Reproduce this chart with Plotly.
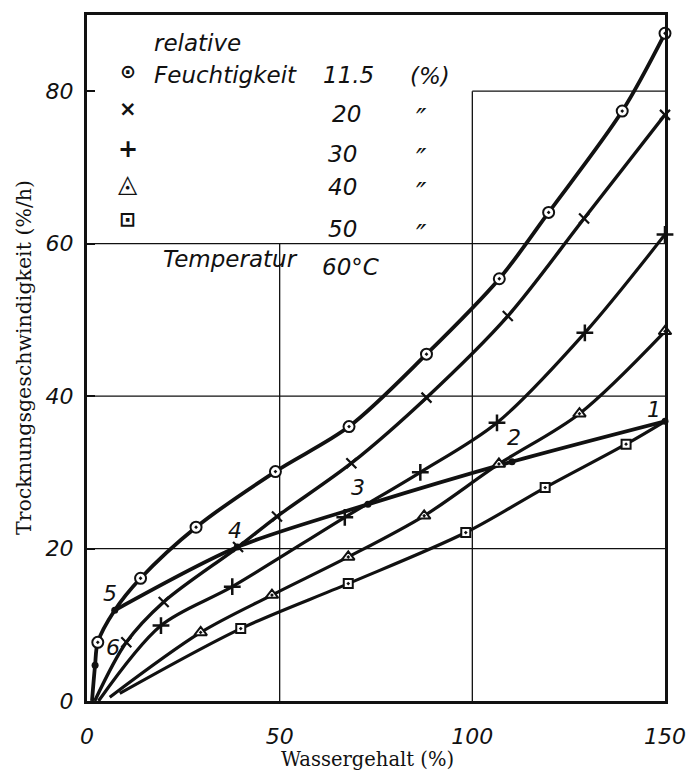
import plotly.graph_objects as go

# ---------------- data ----------------
# relative humidity 11.5 % (circles)
x_115 = [2.8, 13.9, 28.3, 48.9, 68.0, 88.1, 107.0, 119.8, 138.9, 150.0]
y_115 = [7.7, 16.1, 22.8, 30.1, 36.0, 45.5, 55.4, 64.1, 77.4, 87.6]
# 20 % (crosses x)
x_20 = [10.2, 19.9, 39.2, 49.3, 68.6, 88.1, 109.2, 129.0, 150.0]
y_20 = [7.7, 13.0, 20.2, 24.2, 31.2, 39.8, 50.5, 63.3, 76.9]
# 30 % (plus)
x_30 = [19.2, 37.7, 66.9, 86.5, 106.4, 129.2, 150.0]
y_30 = [9.9, 15.0, 24.1, 30.0, 36.5, 48.3, 61.2]
# 40 % (triangles)
x_40 = [29.5, 48.0, 67.8, 87.5, 106.9, 127.8, 150.0]
y_40 = [9.0, 13.9, 18.9, 24.3, 31.1, 37.7, 48.5]
# 50 % (squares)
x_50 = [39.9, 67.8, 98.3, 118.9, 139.9]
y_50 = [9.5, 15.4, 22.1, 28.0, 33.7]

# where each curve leaves the x axis (11.5, 20, 30, 40, 50 %)
start_x = [1.3, 2.0, 3.0, 5.9, 8.5]
start_y = [0.0, 0.0, 0.0, 0.5, 1.0]

# numbered drying path (filled dots)
path_labels = ["1", "2", "3", "4", "5", "6"]
path_x = [150.0, 110.3, 72.9, 39.0, 7.2, 2.1]
path_y = [36.7, 31.4, 25.8, 20.2, 11.9, 4.7]

x_tick_vals = [0, 50, 100, 150]
x_tick_text = ["0", "50", "100", "150"]
y_tick_vals = [0, 20, 40, 60, 80]
y_tick_text = ["0", "20", "40", "60", "80"]

rh_values = ["11.5", "20", "30", "40", "50"]
legend_glyphs = ["⊙", "×", "+", "◬", "⊡"]

# ---------------- figure ----------------
BLACK = "#111111"
HAND = dict(family="DejaVu Sans", size=22, color=BLACK, style="italic")

fig = go.Figure()

# curve for 11.5 % also passes through path points 5 and 6
pts = sorted(list(zip(x_115, y_115)) + [(start_x[0], start_y[0]),
             (path_x[4], path_y[4]), (path_x[5], path_y[5])])
curves = [
    ([p[0] for p in pts], [p[1] for p in pts], 3.8),
    ([start_x[1]] + x_20, [start_y[1]] + y_20, 3.4),
    ([start_x[2]] + x_30, [start_y[2]] + y_30, 3.2),
    ([start_x[3]] + x_40, [start_y[3]] + y_40, 3.2),
    ([start_x[4]] + x_50 + [path_x[0]], [start_y[4]] + y_50 + [path_y[0]], 3.2),
]
for cx, cy, w in curves:
    fig.add_trace(go.Scatter(x=cx, y=cy, mode="lines",
                             line=dict(color=BLACK, width=w, shape="spline", smoothing=0.9),
                             hoverinfo="skip", showlegend=False, cliponaxis=False))

# drying path line (points 1..5)
fig.add_trace(go.Scatter(x=path_x[:5], y=path_y[:5], mode="lines",
                         line=dict(color=BLACK, width=3.8, shape="spline", smoothing=0.8),
                         hoverinfo="skip", showlegend=False, cliponaxis=False))
fig.add_trace(go.Scatter(x=path_x, y=path_y, mode="markers",
                         marker=dict(symbol="circle", size=7, color=BLACK),
                         hoverinfo="skip", showlegend=False, cliponaxis=False))

marker_styles = [
    (x_115, y_115, dict(symbol="circle-dot", size=11, color="white", line=dict(color=BLACK, width=2))),
    (x_20, y_20, dict(symbol="x-thin", size=10, color=BLACK, line=dict(color=BLACK, width=2.2))),
    (x_30, y_30, dict(symbol="cross-thin", size=12, color=BLACK, line=dict(color=BLACK, width=2.5))),
    (x_40, y_40, dict(symbol="triangle-up-dot", size=11, color="white", line=dict(color=BLACK, width=2))),
    (x_50, y_50, dict(symbol="square-dot", size=9, color="white", line=dict(color=BLACK, width=2))),
]
for mx, my, mk in marker_styles:
    fig.add_trace(go.Scatter(x=mx, y=my, mode="markers", marker=mk,
                             hoverinfo="skip", showlegend=False, cliponaxis=False))

# grid (partial, as in the original)
grid = [
    dict(x0=0, x1=150, y0=20, y1=20),
    dict(x0=0, x1=150, y0=40, y1=40),
    dict(x0=0, x1=150, y0=60, y1=60),
    dict(x0=100, x1=150, y0=80, y1=80),
    dict(x0=50, x1=50, y0=0, y1=60),
    dict(x0=100, x1=100, y0=0, y1=80),
]
for g in grid:
    fig.add_shape(type="line", xref="x", yref="y", layer="below",
                  line=dict(color=BLACK, width=1.3), **g)

# path number labels
label_shift = [(-11, 12), (2, 24), (-10, 17), (-2, 17), (-5, 17), (18, 18)]
for lab, px_, py_, (dx, dy) in zip(path_labels, path_x, path_y, label_shift):
    fig.add_annotation(x=px_, y=py_, xref="x", yref="y", text=lab, showarrow=False,
                       xshift=dx, yshift=dy, font=HAND)

# handwritten legend block (paper coordinates)
def P(px, py):
    return (px - 87) / 582, (701 - py) / 688

def note(text, px, py, size=23, anchor="center", family="DejaVu Sans", style="italic",
         weight="normal"):
    x, y = P(px, py)
    fig.add_annotation(x=x, y=y, xref="paper", yref="paper", text=text, showarrow=False,
                       xanchor=anchor, yanchor="middle",
                       font=dict(family=family, size=size, color=BLACK, style=style,
                                 weight=weight))

note("relative", 152, 41, anchor="left")
note("Feuchtigkeit", 152, 73, anchor="left")
note("(%)", 432, 74)
rows_y = [73, 112, 152, 186, 228]
num_x = [350, 348, 344, 344, 344]
glyph_y = [69, 107, 147, 182, 218]
glyph_size = [19, 21, 24, 25, 20]
for i, (val, gl) in enumerate(zip(rh_values, legend_glyphs)):
    note(gl, 128, glyph_y[i], size=glyph_size[i], style="normal", weight="bold")
    note(val, num_x[i], rows_y[i])
    if i > 0:
        note("″", 424, rows_y[i] + 6, size=28)
note("Temperatur", 162, 258, anchor="left")
note("60°C", 322, 266, anchor="left")

# axis titles
fig.add_annotation(x=0.5, y=0, xref="paper", yref="paper", text="Wassergehalt (%)",
                   showarrow=False, xanchor="center", yanchor="middle", yshift=-58, xshift=-9,
                   font=dict(family="DejaVu Serif", size=19.5, color=BLACK))
fig.add_annotation(x=0, y=0.5, xref="paper", yref="paper", text="Trocknungsgeschwindigkeit (%/h)",
                   showarrow=False, xanchor="center", yanchor="middle", xshift=-63, textangle=-90,
                   font=dict(family="DejaVu Serif", size=20.5, color=BLACK))

fig.update_layout(
    width=698, height=775,
    margin=dict(l=87, r=29, t=13, b=74),
    paper_bgcolor="white", plot_bgcolor="white",
    showlegend=False,
    xaxis=dict(range=[0, 150], showgrid=False, zeroline=False, showline=True, mirror=True,
               linewidth=3, linecolor=BLACK, tickmode="array", tickvals=x_tick_vals,
               ticktext=x_tick_text, ticks="", tickfont=HAND, ticklabelstandoff=14),
    yaxis=dict(range=[0, 90], showgrid=False, zeroline=False, showline=True, mirror=True,
               linewidth=3, linecolor=BLACK, tickmode="array", tickvals=y_tick_vals,
               ticktext=y_tick_text, ticks="inside", ticklen=8, tickwidth=1.5, tickcolor=BLACK,
               tickfont=HAND, ticklabelstandoff=6),
)

fig.write_html("out.html")
